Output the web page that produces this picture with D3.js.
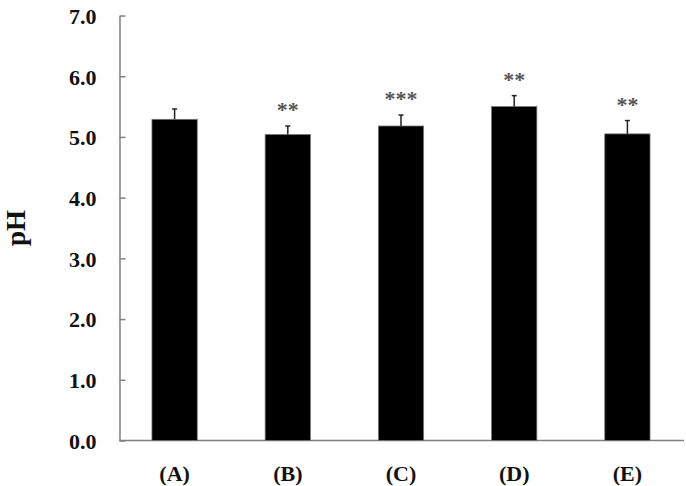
<!DOCTYPE html>
<html lang="en">
<head>
<meta charset="UTF-8">
<title>pH by group</title>
<script src="https://d3js.org/d3.v7.min.js"></script>
<style>
    body { margin: 0; background: #fff; }
    text { font-family: "Liberation Serif", "Times New Roman", serif; font-weight: bold; }
</style>
</head>
<body>
<div id="chart"></div>
<script>
    // ---- data ----
    const groups = ["(A)", "(B)", "(C)", "(D)", "(E)"];
    const phValues = [5.29, 5.04, 5.18, 5.50, 5.05];
    const phErrors = [0.17, 0.14, 0.18, 0.18, 0.22];
    const stars = ["", "**", "***", "**", "**"];
    const yTicks = [0, 1, 2, 3, 4, 5, 6, 7];

    const width = 686, height = 486;
    const margin = { top: 15.5, right: 2, bottom: 45.5, left: 119.5 };

    const svg = d3.select("#chart").append("svg")
        .attr("width", width)
        .attr("height", height);

    const x = d3.scaleBand()
        .domain(groups)
        .range([margin.left - 1.5, width - margin.right])
        .paddingInner(0.6)
        .paddingOuter(0.3);

    const y = d3.scaleLinear()
        .domain([0, 7])
        .range([height - margin.bottom, margin.top]);

    // y axis: ticks point inwards
    const yAxis = svg.append("g")
        .attr("transform", `translate(${margin.left},0)`)
        .call(d3.axisLeft(y).tickValues(yTicks).tickFormat(d3.format(".1f")).tickSizeInner(-6).tickSizeOuter(0).tickPadding(23));
    yAxis.select(".domain").attr("stroke", "#808080").attr("stroke-width", 1.5);
    yAxis.selectAll(".tick line").attr("stroke", "#808080").attr("stroke-width", 1.5);
    yAxis.selectAll(".tick text")
        .style("font-size", "22px").attr("fill", "#111").attr("dy", "0.36em")
        .style("font-family", "'Liberation Serif', serif").style("font-weight", "bold");

    // x axis line
    svg.append("line")
        .attr("x1", margin.left).attr("x2", width - margin.right)
        .attr("y1", y(0)).attr("y2", y(0))
        .attr("stroke", "#808080").attr("stroke-width", 1.5);

    // bars
    svg.selectAll("rect.bar")
        .data(groups)
        .enter().append("rect")
        .attr("class", "bar")
        .attr("x", d => x(d))
        .attr("width", x.bandwidth())
        .attr("y", (d, i) => y(phValues[i]))
        .attr("height", (d, i) => y(0) - y(phValues[i]))
        .attr("fill", "#000")
        .attr("stroke", "#777")
        .attr("stroke-width", 0.8);

    // error bars (upper only)
    const cx = d => x(d) + x.bandwidth() / 2;
    svg.selectAll("line.err")
        .data(groups)
        .enter().append("line")
        .attr("class", "err")
        .attr("x1", cx).attr("x2", cx)
        .attr("y1", (d, i) => y(phValues[i]))
        .attr("y2", (d, i) => y(phValues[i] + phErrors[i]))
        .attr("stroke", "#222").attr("stroke-width", 1.5);
    svg.selectAll("line.cap")
        .data(groups)
        .enter().append("line")
        .attr("class", "cap")
        .attr("x1", d => cx(d) - 2.5).attr("x2", d => cx(d) + 2.5)
        .attr("y1", (d, i) => y(phValues[i] + phErrors[i]))
        .attr("y2", (d, i) => y(phValues[i] + phErrors[i]))
        .attr("stroke", "#222").attr("stroke-width", 1.5);

    // significance stars
    svg.selectAll("text.star")
        .data(groups)
        .enter().append("text")
        .attr("class", "star")
        .attr("x", cx)
        .attr("y", (d, i) => y(phValues[i] + phErrors[i]) - 9)
        .attr("text-anchor", "middle")
        .style("font-size", "22px")
        .attr("fill", "#555")
        .text((d, i) => stars[i]);

    // x labels
    svg.selectAll("text.xlab")
        .data(groups)
        .enter().append("text")
        .attr("class", "xlab")
        .attr("x", cx)
        .attr("y", 481)
        .attr("text-anchor", "middle")
        .style("font-size", "22px")
        .attr("fill", "#111")
        .text(d => d);

    // y label
    svg.append("text")
        .attr("transform", "translate(25,228) rotate(-90)")
        .attr("text-anchor", "middle")
        .style("font-size", "27px")
        .attr("fill", "#111")
        .text("pH");
</script>
</body>
</html>
